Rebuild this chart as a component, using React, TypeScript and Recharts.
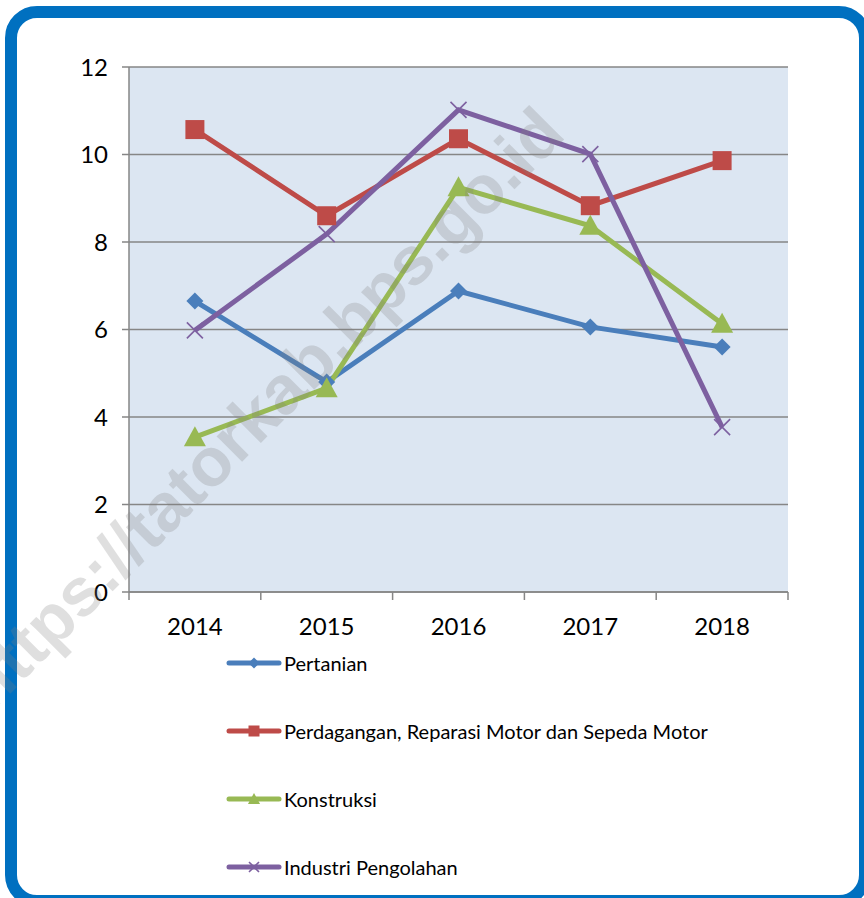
import { LineChart, Line, XAxis, YAxis, CartesianGrid } from "recharts";

const years = ["2014", "2015", "2016", "2017", "2018"];
const pertanian = [6.65, 4.8, 6.88, 6.06, 5.6];
const perdagangan = [10.57, 8.6, 10.36, 8.83, 9.86];
const konstruksi = [3.54, 4.66, 9.25, 8.37, 6.13];
const industri = [5.98, 8.18, 11.02, 10.01, 3.77];
const yTicks = [0, 2, 4, 6, 8, 10, 12];
const xTicks = [-0.5, 0, 0.5, 1, 1.5, 2, 2.5, 3, 3.5, 4, 4.5];

const data = years.map((y, i) => ({
  i,
  year: y,
  pertanian: pertanian[i],
  perdagangan: perdagangan[i],
  konstruksi: konstruksi[i],
  industri: industri[i],
}));

const FONT = "Lato, 'Open Sans', sans-serif";
const GRID = "#868686";

type Shape = "diamond" | "square" | "triangle" | "cross";

function marker(shape: Shape, cx: number, cy: number, color: string, s: number) {
  if (shape === "diamond")
    return (
      <polygon
        points={`${cx},${cy - s} ${cx + s},${cy} ${cx},${cy + s} ${cx - s},${cy}`}
        fill={color}
      />
    );
  if (shape === "square")
    return <rect x={cx - s} y={cy - s} width={s * 2} height={s * 2} fill={color} />;
  if (shape === "triangle")
    return (
      <polygon
        points={`${cx},${cy - s * 1.1} ${cx + s * 1.1},${cy + s * 0.9} ${cx - s * 1.1},${cy + s * 0.9}`}
        fill={color}
      />
    );
  return (
    <g stroke={color} strokeWidth={1.6}>
      <line x1={cx - s} y1={cy - s} x2={cx + s} y2={cy + s} />
      <line x1={cx - s} y1={cy + s} x2={cx + s} y2={cy - s} />
    </g>
  );
}

const series = [
  { key: "pertanian", name: "Pertanian", color: "#4A7EBB", shape: "diamond" as Shape, size: 8.5 },
  {
    key: "perdagangan",
    name: "Perdagangan, Reparasi Motor dan Sepeda Motor",
    color: "#BE4B48",
    shape: "square" as Shape,
    size: 9.5,
  },
  { key: "konstruksi", name: "Konstruksi", color: "#98B954", shape: "triangle" as Shape, size: 10 },
  { key: "industri", name: "Industri Pengolahan", color: "#7D60A0", shape: "cross" as Shape, size: 8 },
];

function XTick(props: any) {
  const { x, y, payload } = props;
  const v = payload.value;
  if (Number.isInteger(v)) {
    return (
      <text x={x} y={y + 43} textAnchor="middle" fontSize={24} fontFamily={FONT} fill="#000">
        {years[v]}
      </text>
    );
  }
  return <line x1={x} x2={x} y1={y} y2={y + 8} stroke={GRID} strokeWidth={1.5} />;
}

function Legend() {
  return (
    <div style={{ position: "absolute", left: 226, top: 629, fontFamily: FONT, fontSize: 20 }}>
      {series.map((s) => (
        <div key={s.key} style={{ display: "flex", alignItems: "center", height: 68 }}>
          <svg width={56} height={20} style={{ marginRight: 2 }}>
            <line x1={3} x2={53} y1={10} y2={10} stroke={s.color} strokeWidth={5} strokeLinecap="round" />
            {marker(s.shape, 28, 10, s.color, s.shape === "cross" ? 5 : 5.5)}
          </svg>
          <span style={{ color: "#000" }}>{s.name}</span>
        </div>
      ))}
    </div>
  );
}

export default function App() {
  return (
    <div
      style={{
        position: "absolute",
        left: 0,
        top: 0,
        width: 864,
        height: 898,
        overflow: "hidden",
        background: "#fff",
      }}
    >
      <div
        style={{
          position: "absolute",
          left: 5,
          top: 6,
          width: 866,
          height: 901,
          border: "12px solid #0070C0",
          borderRadius: 32,
          boxSizing: "border-box",
        }}
      />
      <div style={{ position: "absolute", left: 0, top: 0 }}>
        <LineChart width={864} height={898} data={data} margin={{ top: 67, right: 76, left: 0, bottom: 256 }}>
          <CartesianGrid vertical={false} fill="#DCE6F2" stroke={GRID} strokeWidth={1.5} fillOpacity={1} />
          <XAxis
            dataKey="i"
            type="number"
            domain={[-0.5, 4.5]}
            ticks={xTicks}
            interval={0}
            height={50}
            tickLine={false}
            tickSize={0}
            tickMargin={0}
            tick={<XTick />}
            axisLine={{ stroke: GRID, strokeWidth: 1.5 }}
          />
          <YAxis
            domain={[0, 12]}
            ticks={yTicks}
            interval={0}
            width={129}
            tickSize={7}
            tickMargin={14}
            tickLine={{ stroke: GRID, strokeWidth: 1.5 }}
            axisLine={{ stroke: GRID, strokeWidth: 1.5 }}
            tick={{ fontSize: 24, fontFamily: FONT, fill: "#000" }}
          />
          {series.map((s) => (
            <Line
              key={s.key}
              dataKey={s.key}
              name={s.name}
              stroke={s.color}
              strokeWidth={5}
              isAnimationActive={false}
              dot={(p: any) => <g key={`${s.key}-${p.index}`}>{marker(s.shape, p.cx, p.cy, s.color, s.size)}</g>}
              activeDot={false}
            />
          ))}
        </LineChart>
      </div>
      <Legend />
      <svg width={864} height={898} style={{ position: "absolute", left: 0, top: 0, pointerEvents: "none" }}>
        <text
          x={262}
          y={408}
          transform="rotate(-45 262 408)"
          textAnchor="middle"
          dominantBaseline="central"
          fontSize={68}
          fontWeight="bold"
          fontFamily="'Liberation Sans', Arial, sans-serif"
          fill="#808080"
          fillOpacity={0.25}
        >
          https://tatorkab.bps.go.id
        </text>
      </svg>
    </div>
  );
}
